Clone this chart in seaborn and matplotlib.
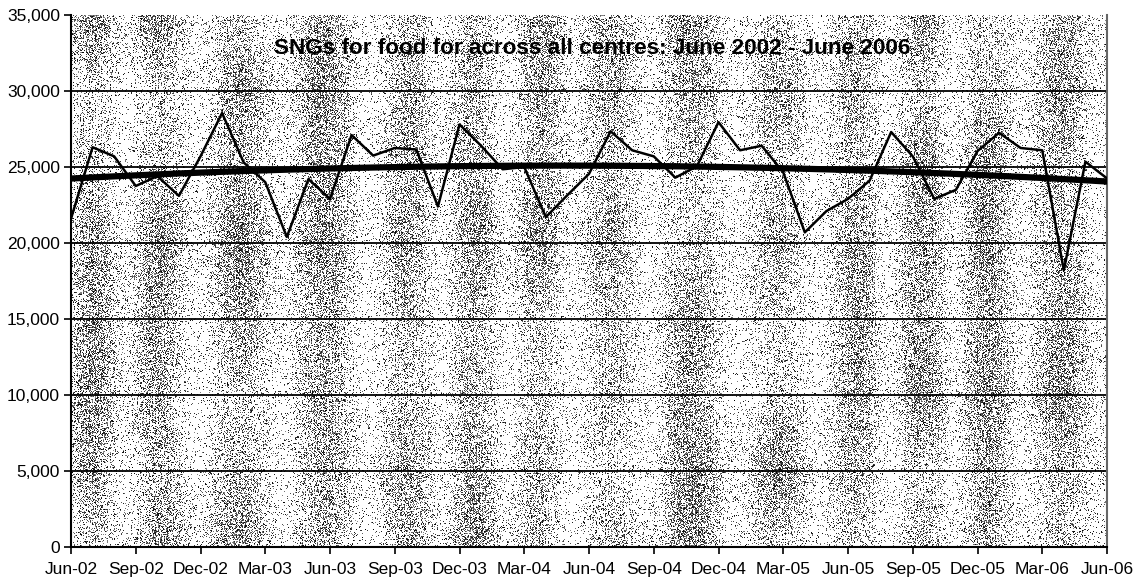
import numpy as np
import pandas as pd
import matplotlib
matplotlib.use("Agg")
import matplotlib.pyplot as plt
import seaborn as sns

# Monthly SNG counts for food, all centres, June 2002 - June 2006
months = pd.date_range("2002-06-01", "2006-06-01", freq="MS")
sngs = [
    21600, 26300, 25700, 23750, 24400, 23100, 25700,          # Jun-02 .. Dec-02
    28550, 25300, 24000, 20400, 24200, 22900, 27100, 25750,   # Jan-03 .. Aug-03
    26250, 26150, 22400, 27800,                               # Sep-03 .. Dec-03
    26400, 24850, 25000, 21700, 23150, 24550, 27350, 26100,   # Jan-04 .. Aug-04
    25700, 24300, 25050, 27950,                               # Sep-04 .. Dec-04
    26100, 26400, 24650, 20700, 22100, 22900, 24100, 27300,   # Jan-05 .. Aug-05
    25700, 22900, 23500, 26050,                               # Sep-05 .. Dec-05
    27250, 26250, 26100, 18200, 25350, 24250,                 # Jan-06 .. Jun-06
]
y_ticks = [0, 5000, 10000, 15000, 20000, 25000, 30000, 35000]
title = "SNGs for food for across all centres: June 2002 - June 2006"

month_idx = np.arange(len(months))
tick_idx = month_idx[::3]
tick_labels = [d.strftime("%b-%y") for d in months[::3]]

df = pd.DataFrame({"month": month_idx, "sngs": sngs})

sns.set_style("white")
plt.rcParams["font.family"] = ["Liberation Sans", "DejaVu Sans"]

fig = plt.figure(figsize=(11.39, 5.81), dpi=100)
ax = fig.add_axes([71 / 1139, 34 / 581, 1036 / 1139, 532 / 581])

# Stippled pattern fill of the plot area (grainy grey with uneven vertical bands)
rng = np.random.default_rng(2002)
H, W = 532, 1036
cols = np.arange(W)
phase = 0.9 * np.sin(2 * np.pi * cols / 430.0)
band = 0.5 + 0.5 * np.cos(2 * np.pi * (cols - 24) / 75.0 + phase)
coarse = rng.random((8, 18))
ry = np.linspace(0, coarse.shape[0] - 1, H)
rx = np.linspace(0, coarse.shape[1] - 1, W)
tmp = np.array([np.interp(rx, np.arange(coarse.shape[1]), row) for row in coarse])
blob = np.array([np.interp(ry, np.arange(coarse.shape[0]), tmp[:, j]) for j in range(W)]).T
stripe = np.where(cols % 3 == 0, 0.12, 0.0)
p = 0.03 + 0.44 * (0.8 * band + 0.2) * (0.2 + 1.0 * blob) + stripe * (0.3 + band)
dots = rng.random((H, W)) < p
texture = np.where(dots, rng.uniform(0.0, 0.55, (H, W)), 1.0)
ax.imshow(texture, cmap="gray", vmin=0, vmax=1, extent=(0, len(months) - 1, 0, 35000),
          aspect="auto", interpolation="none", zorder=0)

# Monthly series and second-order polynomial trend
sns.lineplot(data=df, x="month", y="sngs", ax=ax, color="black", lw=1.8, zorder=4)
sns.regplot(data=df, x="month", y="sngs", ax=ax, order=2, scatter=False, ci=None,
            truncate=True, line_kws=dict(color="black", lw=4.5, zorder=5))

ax.set_xlim(0, len(months) - 1)
ax.set_ylim(0, 35000)
ax.set_yticks(y_ticks)
ax.set_yticklabels([f"{v:,}" for v in y_ticks])
ax.set_xticks(tick_idx)
ax.set_xticklabels(tick_labels)
ax.set_xlabel("")
ax.set_ylabel("")
ax.tick_params(axis="both", labelsize=12.5, colors="black", length=5, width=1.2,
               direction="out", pad=3)
ax.tick_params(axis="x", pad=6)
ax.tick_params(left=True, bottom=True)

ax.yaxis.grid(True, color="black", lw=1.3)
ax.set_axisbelow(True)
for gl, v in zip(ax.yaxis.get_gridlines(), y_ticks):
    if v in (0, 35000):
        gl.set_visible(False)
    gl.set_zorder(1)

for s in ("left", "bottom"):
    ax.spines[s].set_color("black")
    ax.spines[s].set_linewidth(1.5)
ax.spines["top"].set_visible(False)
ax.spines["right"].set_color("#666666")
ax.spines["right"].set_linewidth(1.5)

ax.text(0.503, 0.937, title, transform=ax.transAxes, ha="center", va="center",
        fontsize=16.2, fontweight="bold", color="black", zorder=6)

fig.savefig("out.png", dpi=100)
